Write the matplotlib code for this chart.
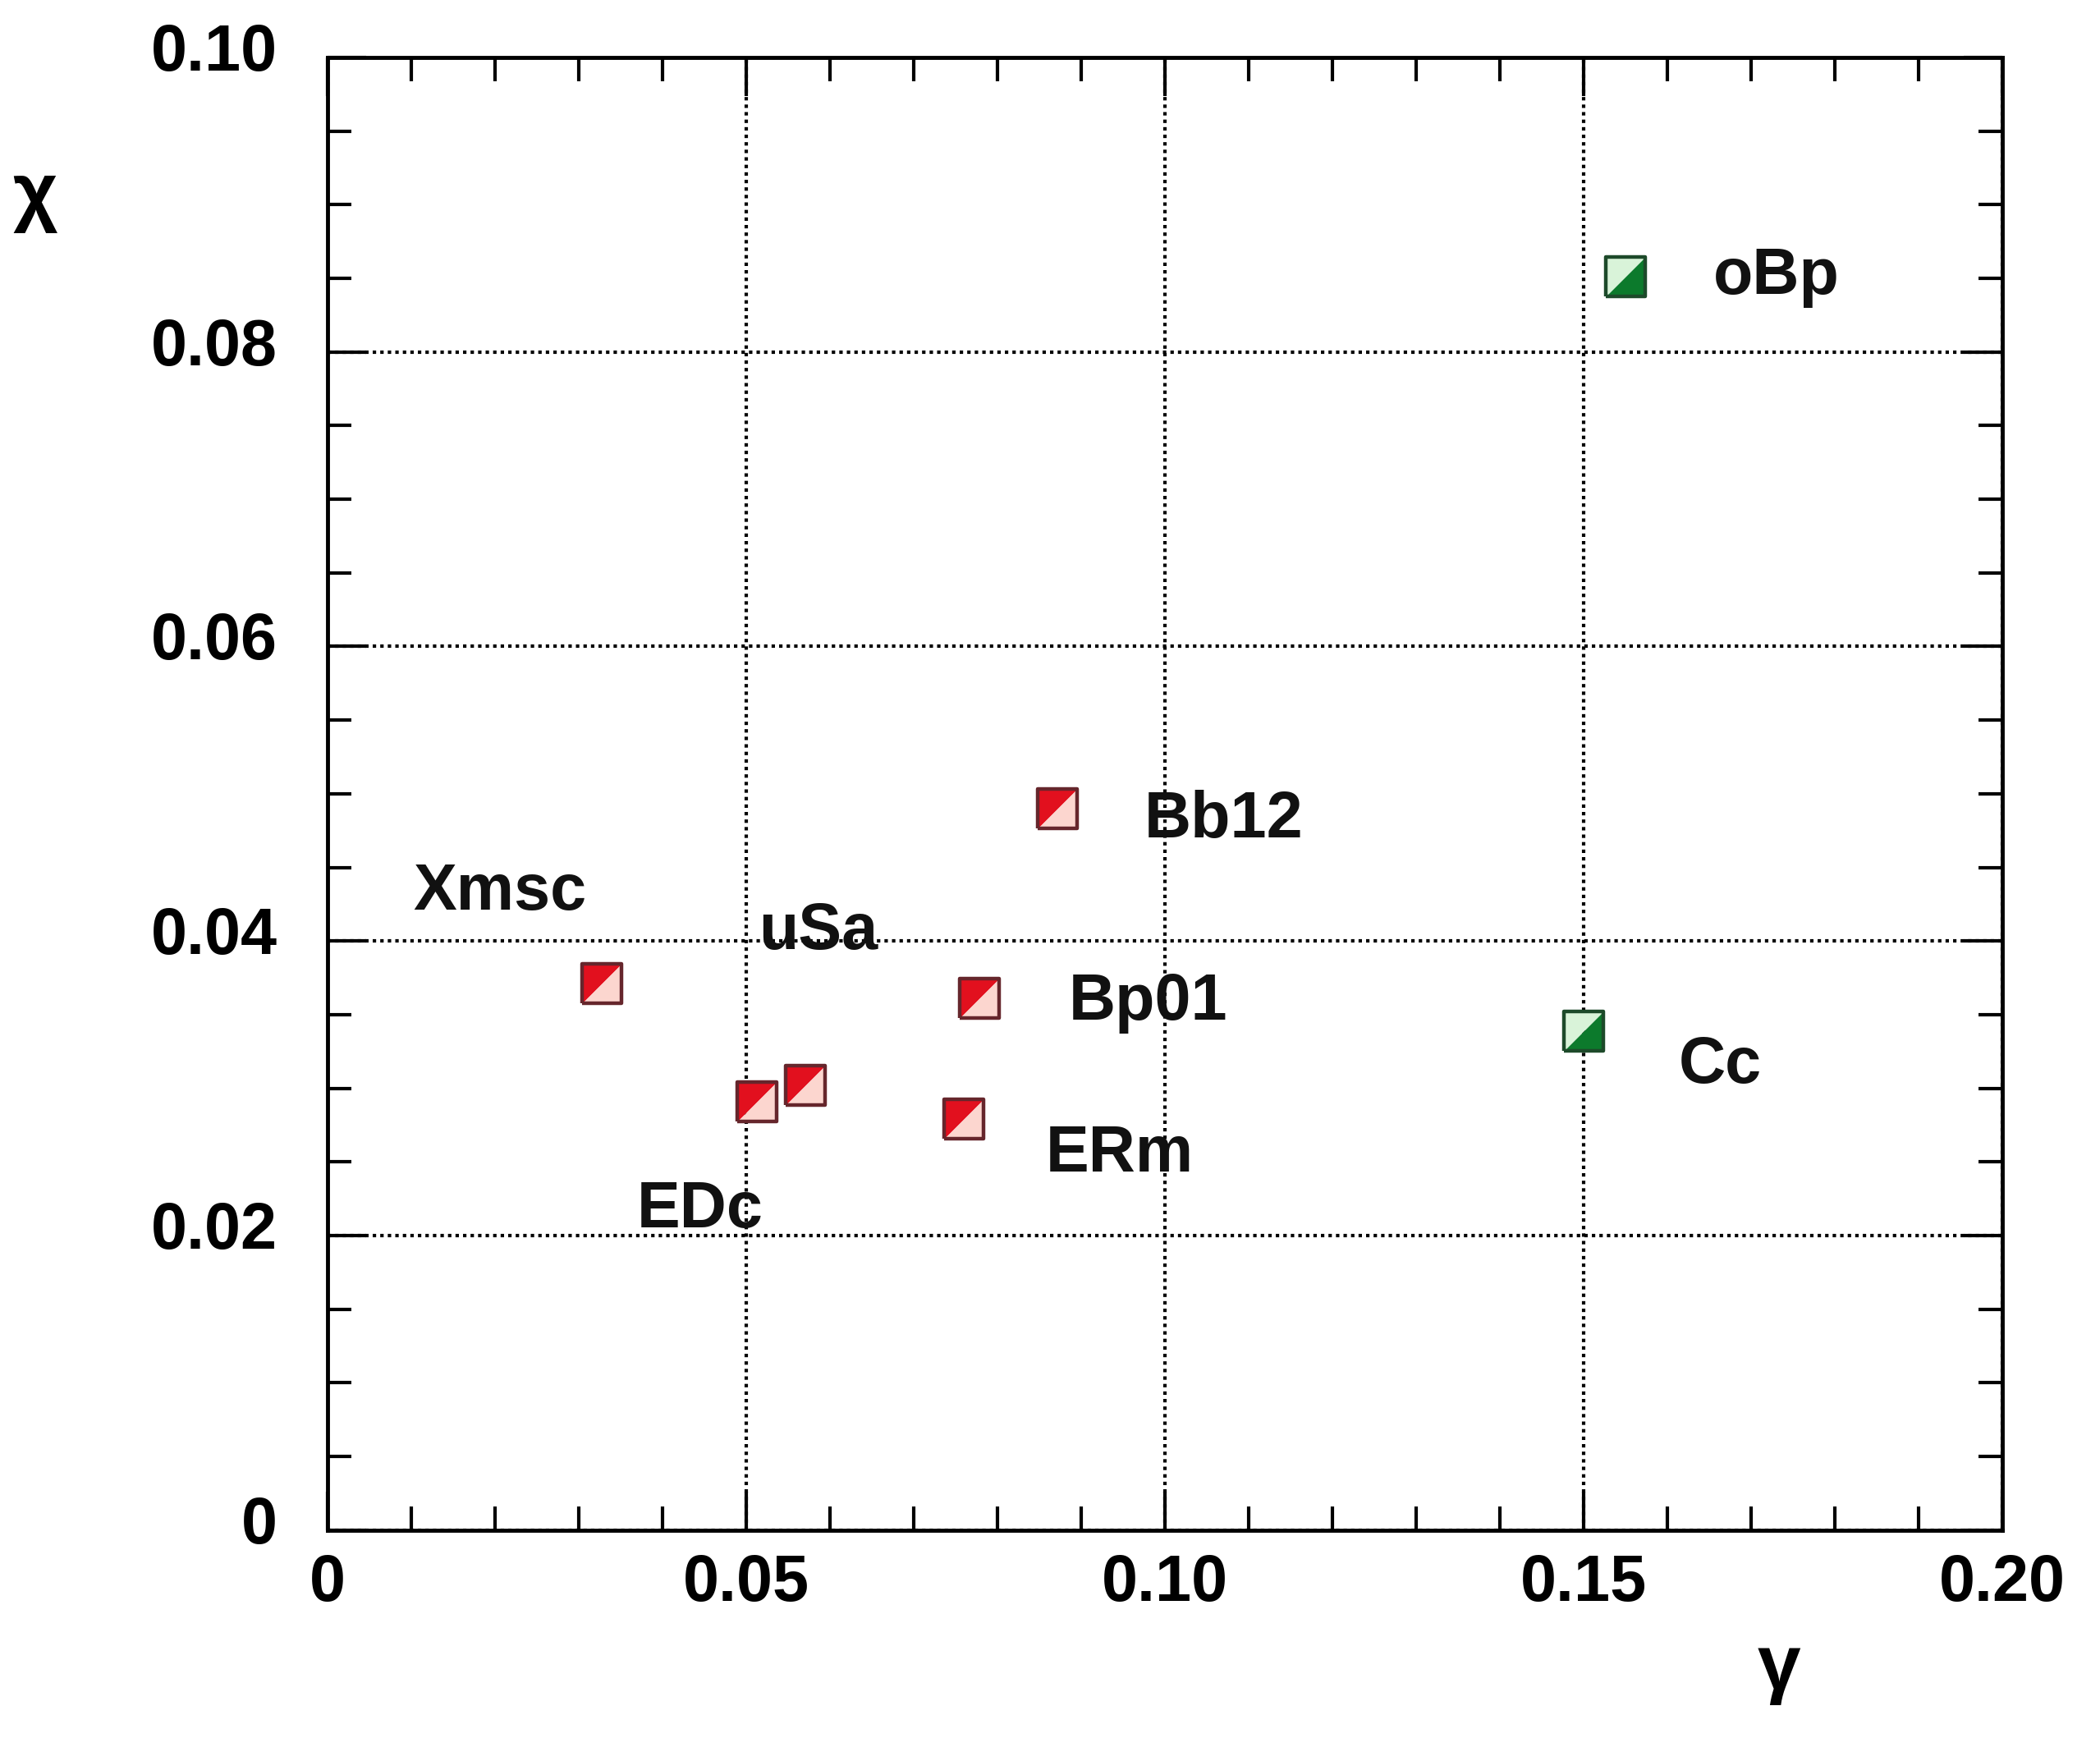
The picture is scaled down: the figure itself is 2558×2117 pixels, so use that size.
import matplotlib
matplotlib.use('Agg')
import matplotlib.pyplot as plt
from matplotlib.ticker import MultipleLocator, FixedFormatter, FixedLocator
from matplotlib.transforms import ScaledTranslation

# strain data (gamma, chi)
names = ['Xmsc', 'EDc', 'uSa', 'ERm', 'Bp01', 'Bb12', 'Cc', 'oBp']
gamma = [0.0327, 0.0513, 0.0571, 0.0760, 0.0778, 0.0872, 0.1500, 0.1550]
chi = [0.0371, 0.0291, 0.0302, 0.0279, 0.0361, 0.0490, 0.0339, 0.0851]
group = ['red', 'red', 'red', 'red', 'red', 'red', 'green', 'green']
# where each name is written
label_x = [0.0102, 0.0369, 0.0515, 0.0858, 0.0885, 0.0975, 0.1613, 0.1655]
label_y = [0.0433, 0.0217, 0.0406, 0.0255, 0.0358, 0.0482, 0.0315, 0.0851]

x_ticks = [0, 0.05, 0.10, 0.15, 0.20]
x_ticklabels = ['0', '0.05', '0.10', '0.15', '0.20']
y_ticks = [0, 0.02, 0.04, 0.06, 0.08, 0.10]
y_ticklabels = ['0', '0.02', '0.04', '0.06', '0.08', '0.10']

colors = {
    'red': ('#e2101e', '#fcd6cf', '#66262c'),
    'green': ('#d9f3d9', '#0c7a2c', '#1d4a2a'),
}

upper_left = [(-1, -1), (-1, 1), (1, 1), (-1, -1)]
lower_right = [(-1, -1), (1, -1), (1, 1), (-1, -1)]
square = [(-1, -1), (-1, 1), (1, 1), (1, -1), (-1, -1)]

fig = plt.figure(figsize=(25.58, 21.17), dpi=100)
ax = fig.add_axes([0.156, 0.1196, 0.7975, 0.8474])

for xv, yv, g in zip(gamma, chi, group):
    c1, c2, ce = colors[g]
    ax.plot(xv, yv, marker=upper_left, ms=34, mfc=c1, mec='none', ls='none', zorder=3)
    ax.plot(xv, yv, marker=lower_right, ms=34, mfc=c2, mec='none', ls='none', zorder=3)
    ax.plot(xv, yv, marker=square, ms=34, mfc='none', mec=ce, mew=3.2, ls='none', zorder=4)

for n, lx, ly in zip(names, label_x, label_y):
    ax.text(lx, ly, n, fontsize=57, fontweight='bold', family='Liberation Sans',
            ha='left', va='center', color='#111111')

ax.set_xlim(0, 0.2)
ax.set_ylim(0, 0.1)
ax.xaxis.set_major_locator(FixedLocator(x_ticks))
ax.xaxis.set_major_formatter(FixedFormatter(x_ticklabels))
ax.yaxis.set_major_locator(FixedLocator(y_ticks))
ax.yaxis.set_major_formatter(FixedFormatter(y_ticklabels))
ax.xaxis.set_minor_locator(MultipleLocator(0.01))
ax.yaxis.set_minor_locator(MultipleLocator(0.005))

ax.tick_params(which='both', direction='in', top=True, right=True, width=3, color='black')
ax.tick_params(which='major', length=34, labelsize=57)
ax.tick_params(axis='x', which='major', pad=20)
ax.tick_params(axis='y', which='major', pad=44)
ax.tick_params(which='minor', length=21)
for lab in ax.get_xticklabels() + ax.get_yticklabels():
    lab.set_fontweight('bold')
    lab.set_family('Liberation Sans')

for s in ax.spines.values():
    s.set_linewidth(3.5)

ax.grid(True, which='major', color='black', linestyle=(0, (1.0, 1.2)), linewidth=3)

fig.text(0.0168, 0.887, 'χ', fontsize=68, fontweight='bold', family='Liberation Sans',
         ha='center', va='center')
fig.text(0.847, 0.040, 'γ', fontsize=68, fontweight='bold', family='Liberation Sans',
         ha='center', va='center')

# y tick labels sit a little above their ticks in the original
fig.canvas.draw()
for lab in ax.yaxis.get_majorticklabels():
    lab.set_transform(lab.get_transform() + ScaledTranslation(0, 0.13, fig.dpi_scale_trans))

fig.savefig('out.png', dpi=100)
